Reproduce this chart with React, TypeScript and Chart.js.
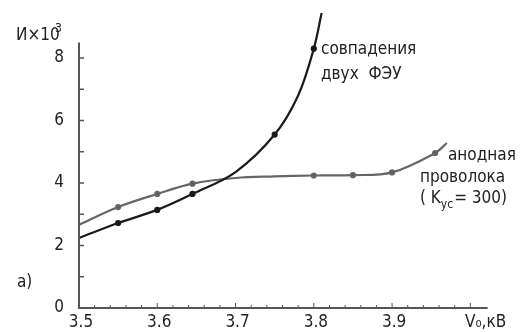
import React, { useEffect, useRef } from "react";
import { Chart, registerables } from "chart.js";

Chart.register(...registerables);

// Curve 1: coincidences of two PMTs (совпадения двух ФЭУ)
const coincX = [3.5, 3.55, 3.6, 3.645, 3.7, 3.75, 3.78, 3.8, 3.81];
const coincY = [2.24, 2.72, 3.14, 3.65, 4.35, 5.55, 6.8, 8.3, 9.44];
const coincMarked = [false, true, true, true, false, true, false, true, false];

// Curve 2: anode wire (анодная проволока, K_ус = 300)
const anodeX = [3.5, 3.55, 3.6, 3.645, 3.7, 3.75, 3.8, 3.85, 3.9, 3.955, 3.97];
const anodeY = [2.66, 3.23, 3.65, 3.98, 4.16, 4.21, 4.24, 4.25, 4.34, 4.96, 5.28];
const anodeMarked = [false, true, true, true, false, false, true, true, true, true, false];

const xTickLabels = ["3.5", "3.6", "3.7", "3.8", "3.9"];
const xTickValues = [3.5, 3.6, 3.7, 3.8, 3.9];
const yTickLabels = ["0", "2", "4", "6", "8"];
const yTickValues = [0, 2, 4, 6, 8];

const FONT = "'Liberation Sans Narrow', 'DejaVu Sans Condensed', sans-serif";

const axesPlugin = {
  id: "customAxes",
  afterDraw(chart: any) {
    const ctx = chart.ctx as CanvasRenderingContext2D;
    const xs = chart.scales.x;
    const ys = chart.scales.y;
    const x0 = xs.getPixelForValue(3.5);
    const y0 = ys.getPixelForValue(0);
    const xEnd = xs.getPixelForValue(4.022);
    const yTop = ys.getPixelForValue(8.5);
    ctx.save();
    ctx.strokeStyle = "#555";
    ctx.lineWidth = 2;
    ctx.beginPath();
    ctx.moveTo(x0, yTop);
    ctx.lineTo(x0, y0);
    ctx.lineTo(xEnd, y0);
    ctx.stroke();
    // y ticks (inside)
    ctx.lineWidth = 1.5;
    for (let v = 1; v <= 8; v++) {
      const py = ys.getPixelForValue(v);
      ctx.beginPath();
      ctx.moveTo(x0, py);
      ctx.lineTo(x0 + 5, py);
      ctx.stroke();
    }
    // x ticks (inside)
    ctx.lineWidth = 1;
    for (let i = 0; i <= 25; i++) {
      const v = 3.5 + i * 0.02;
      if (v > 4.0) break;
      const px = xs.getPixelForValue(v);
      const major = i % 5 === 0;
      ctx.beginPath();
      ctx.moveTo(px, y0);
      ctx.lineTo(px, y0 - (major ? 5 : 3));
      ctx.stroke();
    }
    // tick labels
    ctx.fillStyle = "#222";
    ctx.font = `17px ${FONT}`;
    ctx.textBaseline = "middle";
    ctx.textAlign = "right";
    yTickValues.forEach((v, i) => {
      ctx.fillText(yTickLabels[i], x0 - 15, ys.getPixelForValue(v));
    });
    ctx.textAlign = "center";
    xTickValues.forEach((v, i) => {
      ctx.fillText(xTickLabels[i], xs.getPixelForValue(v) + 2, y0 + 15);
    });
    // axis titles
    ctx.textAlign = "left";
    ctx.fillText("V\u2080,кВ", 465, y0 + 15);
    ctx.fillText("И\u00d710", 16, 36);
    ctx.font = `12px ${FONT}`;
    ctx.fillText("3", 55, 29);
    ctx.font = `17px ${FONT}`;
    ctx.fillText("а)", 17, 283);
    // annotations
    ctx.fillText("совпадения", 321, 50);
    ctx.fillText("двух  ФЭУ", 321, 75);
    ctx.fillText("анодная", 448, 156);
    ctx.fillText("проволока", 420, 178);
    ctx.fillText("( K", 420, 199);
    const w1 = ctx.measureText("( K").width;
    ctx.font = `12px ${FONT}`;
    ctx.fillText("ус", 420 + w1, 205);
    const w2 = ctx.measureText("ус").width;
    ctx.font = `17px ${FONT}`;
    ctx.fillText("= 300)", 420 + w1 + w2 + 1, 199);
    ctx.restore();
  },
};

export default function App() {
  const ref = useRef<HTMLCanvasElement | null>(null);
  useEffect(() => {
    document.body.style.margin = "0";
    const canvas = ref.current;
    if (!canvas) return;
    const chart = new Chart(canvas, {
      type: "line",
      data: {
        datasets: [
          {
            label: "совпадения двух ФЭУ",
            data: coincX.map((x, i) => ({ x, y: coincY[i] })),
            borderColor: "#1a1a1a",
            backgroundColor: "#1a1a1a",
            borderWidth: 2.2,
            pointRadius: coincMarked.map((m) => (m ? 2 : 0)),
            tension: 0.35,
            clip: false,
          },
          {
            label: "анодная проволока",
            data: anodeX.map((x, i) => ({ x, y: anodeY[i] })),
            borderColor: "#6a6464",
            backgroundColor: "#555",
            borderWidth: 2.2,
            pointRadius: anodeMarked.map((m) => (m ? 2 : 0)),
            tension: 0.35,
            clip: false,
          },
        ],
      },
      options: {
        animation: false,
        responsive: false,
        layout: { padding: { left: 79, right: 35, top: 8, bottom: 24 } },
        plugins: { legend: { display: false }, tooltip: { enabled: false } },
        scales: {
          x: { type: "linear", min: 3.5, max: 4.02, display: false },
          y: { type: "linear", min: 0, max: 9.6, display: false },
        },
      },
      plugins: [axesPlugin],
    });
    return () => chart.destroy();
  }, []);
  return (
    <div style={{ position: "absolute", left: 0, top: 0, width: 521, height: 332, background: "#fff" }}>
      <canvas ref={ref} width={521} height={332} style={{ display: "block" }} />
    </div>
  );
}
